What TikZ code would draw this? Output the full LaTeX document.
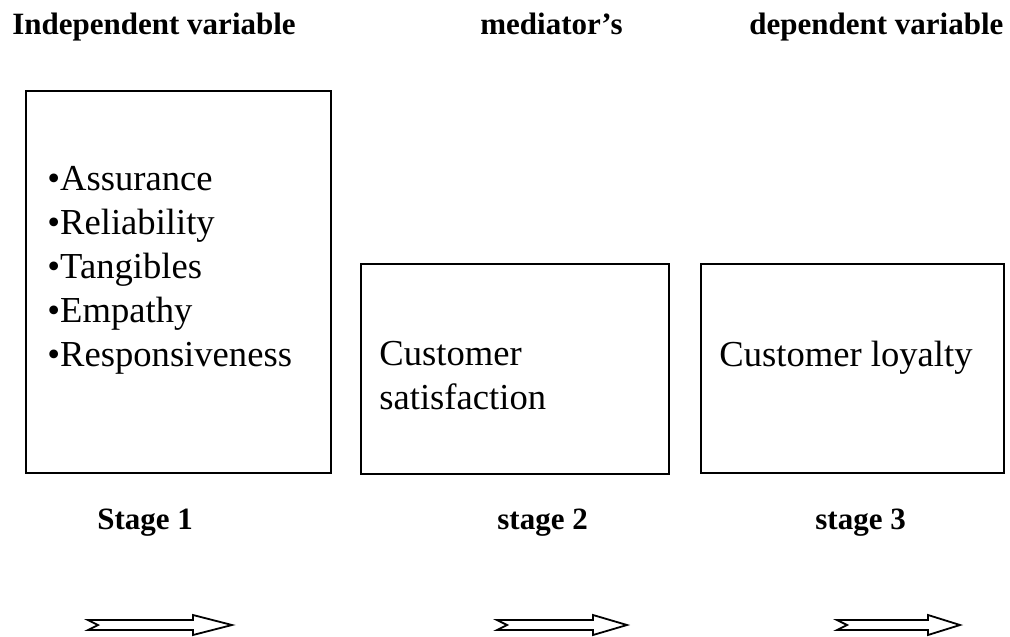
\documentclass[tikz,border=0pt]{standalone}
\usepackage{fontspec}
\setmainfont{Liberation Serif}
\usepackage{tikz}
\usetikzlibrary{positioning}
\tikzstyle{box} = [rectangle, draw, line width=1pt, anchor=north west, inner sep=0pt]
\tikzstyle{heading} = [anchor=base west, inner sep=0pt, font=\fontsize{15.5}{19}\selectfont\bfseries]
\tikzstyle{item} = [anchor=west, inner sep=0pt, align=left, font=\fontsize{18.3}{22}\selectfont]
\tikzstyle{hollow} = [draw, line width=0.9pt, fill=white]

\begin{document}
\begin{tikzpicture}[x=0.5pt, y=-0.5pt]
    \useasboundingbox (0,0) rectangle (1010,636);
    % Headings
    \node [heading] (indep) at (12,35) {Independent variable};
    \node [heading] (medi) at (480,35) {mediator’s};
    \node [heading] (dep) at (749,35) {dependent variable};
    % Boxes
    \node [box, minimum width=152.5pt, minimum height=191pt] (quality) at (25,90) {};
    \node [box, minimum width=154pt, minimum height=105pt] (satis) at (360,263) {};
    \node [box, minimum width=151.5pt, minimum height=104.5pt] (loyal) at (700,263) {};
    % Box texts
    \node [item] (dims) at (47,270) {•Assurance\\•Reliability\\•Tangibles\\•Empathy\\•Responsiveness};
    \node [item] (satistext) at (379,376) {Customer\\satisfaction};
    \node [item] (loyaltext) at (719,358) {Customer loyalty};
    % Stages
    \node [heading] (stage1) at (97,529) {Stage 1};
    \node [heading] (stage2) at (497,529) {stage 2};
    \node [heading] (stage3) at (815,529) {stage 3};
    % Arrows
    \foreach \a/\b/\c in {88/193/232, 497/593/627, 837/928/960}
        \path [hollow] (\a,620) -- (\b,620) -- (\b,615) -- (\c,625) -- (\b,635)
            -- (\b,630) -- (\a,630) -- (\a+10,625) -- cycle;
\end{tikzpicture}
\end{document}
